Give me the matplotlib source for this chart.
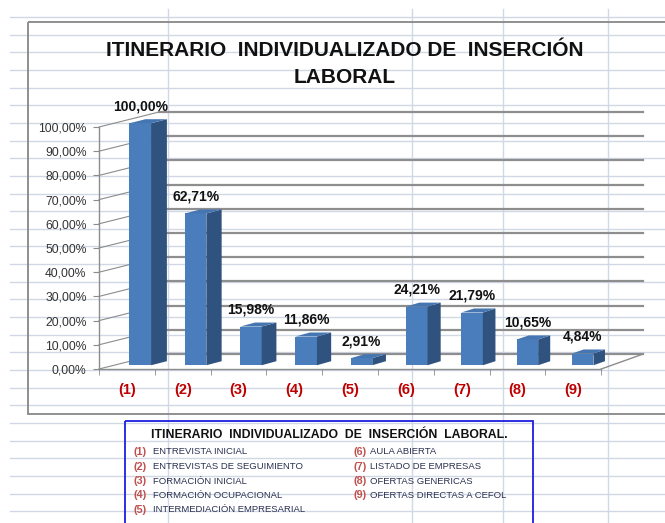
import matplotlib
matplotlib.use('Agg')
import matplotlib.pyplot as plt
from matplotlib.patches import Rectangle, Polygon

plt.rcParams['font.family'] = ['Liberation Sans', 'DejaVu Sans']

# -----------------------------------------
# Datos del gráfico
categorias = ['(1)', '(2)', '(3)', '(4)', '(5)', '(6)', '(7)', '(8)', '(9)']
valores = [100.00, 62.71, 15.98, 11.86, 2.91, 24.21, 21.79, 10.65, 4.84]
ticks_y = [0, 10, 20, 30, 40, 50, 60, 70, 80, 90, 100]
leyenda_izq = ['ENTREVISTA INICIAL', 'ENTREVISTAS DE SEGUIMIENTO', 'FORMACIÓN INICIAL',
               'FORMACIÓN OCUPACIONAL', 'INTERMEDIACIÓN EMPRESARIAL']
leyenda_der = ['AULA ABIERTA', 'LISTADO DE EMPRESAS', 'OFERTAS GENERICAS',
               'OFERTAS DIRECTAS A CEFOL']
titulo = 'ITINERARIO  INDIVIDUALIZADO DE  INSERCIÓN\nLABORAL'
titulo_leyenda = 'ITINERARIO  INDIVIDUALIZADO  DE  INSERCIÓN  LABORAL.'

# -----------------------------------------
# Medidas (pixeles) y efecto 3D
W, H = 665, 523
PX_X = 55.8          # pixeles por categoría
PX_Y = 2.42          # pixeles por punto porcentual
N = len(valores)
DXL, DXR = 60 / PX_X, 42 / PX_X   # profundidad horizontal (izq / der)
DY = 15 / PX_Y                    # profundidad vertical


def proj(x, y, z):
    """Proyección oblicua simple: z = 0 frente, z = 1 pared del fondo."""
    dx = DXL + (DXR - DXL) * x / N
    return x + z * dx, y + z * DY


def fmt(v):
    return f'{v:.2f}'.replace('.', ',') + '%'


def plot_grafico(save_path='out.png'):
    fig = plt.figure(figsize=(W / 100, H / 100), dpi=100)

    # Fondo tipo hoja de cálculo
    bg = fig.add_axes([0, 0, 1, 1])
    bg.set_xlim(0, W)
    bg.set_ylim(H, 0)
    bg.axis('off')
    k = 0
    while 17 + 17.65 * k < H:
        y = 17 + 17.65 * k
        bg.plot([10, W], [y, y], color='#d0d7e5', lw=1, zorder=0)
        k += 1
    for x in [168, 412, 503, 608]:
        bg.plot([x, x], [9, H], color='#d0d7e5', lw=1, zorder=0)

    # Marco del gráfico y título
    bg.add_patch(Rectangle((28, 22), 700, 392, fill=False, ec='#878787', lw=1.3))
    bg.text(345, 64, titulo, ha='center', va='center', fontsize=15,
            fontweight='bold', linespacing=1.55, color='#111111')

    # Ejes del gráfico
    ax = fig.add_axes([99 / W, 1 - 369 / H, 544 / W, 254 / H])
    ax.set_xlim(0, 544 / PX_X)
    ax.set_ylim(0, 254 / PX_Y)
    ax.patch.set_visible(False)
    for s in ax.spines.values():
        s.set_visible(False)

    gris = '#8c8c8c'
    # Paredes: izquierda y fondo
    for v in ticks_y:
        x1, y1 = proj(0, v, 1)
        x2, y2 = proj(N, v, 1)
        ax.plot([0, x1], [v, y1], color=gris, lw=0.8, clip_on=False, zorder=1)
        ax.plot([x1, x2], [y1, y2], color='#8e8e8e', lw=1.6, clip_on=False, zorder=1)
    # Ejes y suelo
    xe, ye = proj(N, 0, 1)
    ax.plot([0, 0], [0, 100], color=gris, lw=1, clip_on=False, zorder=2)
    ax.plot([0, N], [0, 0], color=gris, lw=1, clip_on=False, zorder=2)
    ax.plot([N, xe], [0, ye], color=gris, lw=1, clip_on=False, zorder=2)

    # Barras 3D
    a, w = 0.28, 0.39
    z0, z1 = 0.25, 0.52
    frente, lado, arriba = '#4a7dbb', '#30527f', '#4576b2'
    for i, v in enumerate(valores):
        x0 = i + a
        x1 = x0 + w
        fx0, fy0 = proj(x0, 0, z0)
        fx1, _ = proj(x1, 0, z0)
        ax.bar(fx0, v, width=fx1 - fx0, bottom=fy0, align='edge',
               color=frente, zorder=3, clip_on=False)
        ax.add_patch(Polygon([proj(x1, 0, z0), proj(x1, 0, z1),
                              proj(x1, v, z1), proj(x1, v, z0)],
                             closed=True, fc=lado, ec='none', zorder=3, clip_on=False))
        ax.add_patch(Polygon([proj(x0, v, z0), proj(x1, v, z0),
                              proj(x1, v, z1), proj(x0, v, z1)],
                             closed=True, fc=arriba, ec='none', zorder=3, clip_on=False))
        ax.annotate(fmt(v), ((fx0 + fx1) / 2, v + fy0), xytext=(0, 12),
                    textcoords='offset points', ha='center', va='center',
                    fontsize=10, fontweight='bold', color='#111111', zorder=5)

    # Etiquetas de los ejes
    ax.set_yticks(ticks_y, labels=[fmt(v) for v in ticks_y])
    ax.tick_params(axis='y', length=4, color=gris, labelsize=8.7,
                   labelcolor='#333333', pad=5)
    ax.set_xticks([i + 0.5 for i in range(N)], labels=categorias)
    ax.set_xticks(range(N + 1), minor=True)
    ax.tick_params(axis='x', which='major', length=0, pad=10,
                   labelsize=10.5, labelcolor='#c00000')
    ax.tick_params(axis='x', which='minor', length=4, color=gris)
    for lbl in ax.get_xticklabels():
        lbl.set_fontweight('bold')

    # Leyenda como cuadro de texto
    bg.add_patch(Rectangle((125, 421), 408, 120, fill=False, ec='#1e1ee0', lw=1.3))
    bg.text(329, 435, titulo_leyenda, ha='center', va='center', fontsize=8.8,
            fontweight='bold', color='#111111')
    for k, t in enumerate(leyenda_izq):
        y = 452 + 14.5 * k
        bg.text(134, y, f'({k + 1})', ha='left', va='center', fontsize=7.7,
                fontweight='bold', color='#c0504d')
        bg.text(153, y, t, ha='left', va='center', fontsize=6.8, color='#2b3050')
    for k, t in enumerate(leyenda_der):
        y = 452 + 14.5 * k
        bg.text(353, y, f'({k + 6})', ha='left', va='center', fontsize=7.7,
                fontweight='bold', color='#c0504d')
        bg.text(370, y, t, ha='left', va='center', fontsize=6.8, color='#2b3050')

    fig.savefig(save_path, dpi=100)
    plt.close(fig)
    return save_path


if __name__ == '__main__':
    plot_grafico('out.png')
